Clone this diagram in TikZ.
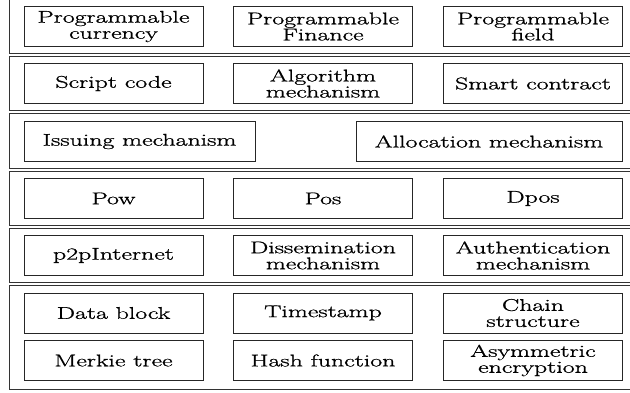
\documentclass[tikz,border=0pt]{standalone}
\usepackage{graphicx}
\newcommand{\stx}[1]{\scalebox{1.52}[1]{\special{pdf:literal direct 2 Tr 0.15 w}#1\special{pdf:literal direct 0 Tr}}}
\begin{document}
\begin{tikzpicture}[x=1pt,y=-1pt,
  layerbox/.style={draw=black!80, line width=0.9pt, anchor=north west, inner sep=0pt, minimum width=640pt},
  itembox/.style={draw=black!85, line width=0.8pt, minimum width=179pt, minimum height=40pt, inner sep=0pt, align=center, font=\fontsize{17}{16}\selectfont}]
\useasboundingbox (0,0) rectangle (630,392);
\clip (0,0) rectangle (630,392);
% layers
\node[layerbox, minimum height=55pt] (L1) at (9,-2) {};
\node[layerbox, minimum height=54pt] (L2) at (9,56) {};
\node[layerbox, minimum height=55pt] (L3) at (9,113) {};
\node[layerbox, minimum height=54pt] (L4) at (9,171) {};
\node[layerbox, minimum height=54pt] (L5) at (9,228) {};
\node[layerbox, minimum height=104pt] (L6) at (9,285) {};
% layer 1
\node[itembox] (a1) at (113.5,26.5) {\stx{Programmable}\\\stx{currency}};
\node[itembox] (a2) at (323,26.5) {\stx{Programmable}\\\stx{Finance}};
\node[itembox] (a3) at (533,26.5) {\stx{Programmable}\\\stx{field}};
% layer 2
\node[itembox] (b1) at (113.5,83.5) {\stx{Script code}};
\node[itembox] (b2) at (323,83.5) {\stx{Algorithm}\\\stx{mechanism}};
\node[itembox] (b3) at (533,83.5) {\stx{Smart contract}};
% layer 3
\node[itembox, minimum width=231pt] (c1) at (139.5,141.5) {\stx{Issuing mechanism}};
\node[itembox, minimum width=266pt] (c2) at (489,141.5) {\stx{Allocation mechanism}};
% layer 4
\node[itembox] (d1) at (113.5,198.5) {\stx{Pow}};
\node[itembox] (d2) at (323,198.5) {\stx{Pos}};
\node[itembox] (d3) at (533,198.5) {\stx{Dpos}};
% layer 5
\node[itembox] (e1) at (113.5,255.5) {\stx{p2pInternet}};
\node[itembox] (e2) at (323,255.5) {\stx{Dissemination}\\\stx{mechanism}};
\node[itembox] (e3) at (533,255.5) {\stx{Authentication}\\\stx{mechanism}};
% layer 6
\node[itembox] (f1) at (113.5,313) {\stx{Data block}};
\node[itembox] (f2) at (323,313) {\stx{Timestamp}};
\node[itembox] (f3) at (533,313) {\stx{Chain}\\\stx{structure}};
\node[itembox] (g1) at (113.5,360.5) {\stx{Merkie tree}};
\node[itembox] (g2) at (323,360.5) {\stx{Hash function}};
\node[itembox] (g3) at (533,360.5) {\stx{Asymmetric}\\\stx{encryption}};
\end{tikzpicture}
\end{document}
